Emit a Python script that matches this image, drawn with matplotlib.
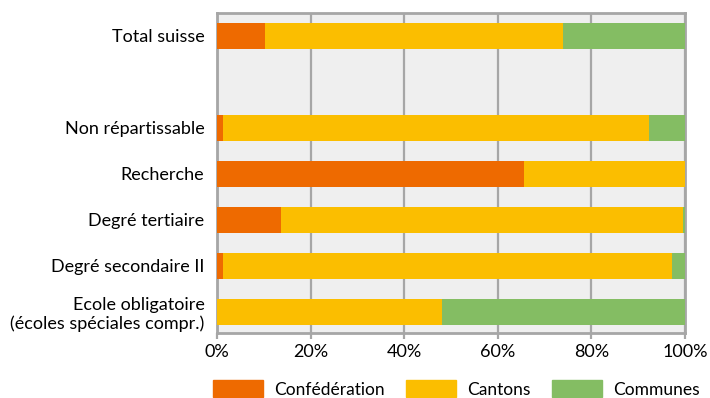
import matplotlib
matplotlib.use("Agg")
import matplotlib.pyplot as plt
from matplotlib.patches import Patch

categories = ["Ecole obligatoire\n(écoles spéciales compr.)", "Degré secondaire II",
              "Degré tertiaire", "Recherche", "Non répartissable", "Total suisse"]
positions = [0, 1, 2, 3, 4, 6]
confederation = [0.0, 1.3, 13.7, 65.6, 1.3, 10.3]
cantons = [48.1, 95.9, 85.9, 34.4, 91.0, 63.6]
communes = [51.9, 2.8, 0.4, 0.0, 7.7, 26.1]
series_names = ["Confédération", "Cantons", "Communes"]
colors = ["#EE6A00", "#FBBE00", "#84BD63"]
xticks = [0, 20, 40, 60, 80, 100]

plt.rcParams['font.family'] = ['Lato', 'DejaVu Sans']
fig = plt.figure(figsize=(7.1, 3.98), dpi=100)
ax = fig.add_axes([217/710, 1-333/398, (685-217)/710, (333-13)/398])
ax.set_facecolor("#EFEFEF")

h = 0.57
left = [0]*len(positions)
for vals, col, name in zip([confederation, cantons, communes], colors, series_names):
    ax.barh(positions, vals, left=left, height=h, color=col, label=name, zorder=3)
    left = [a+b for a, b in zip(left, vals)]

ax.set_xlim(0, 100)
ax.set_ylim(-0.46, 6.5)
ax.set_xticks(xticks)
ax.set_xticklabels([f"{v}%" for v in xticks])
ax.set_yticks(positions)
ax.set_yticklabels(categories)
ax.xaxis.grid(True, color="#A6A6A6", linewidth=1.6, zorder=1)
ax.tick_params(axis='x', length=4, width=1.6, color="#A6A6A6", labelsize=13, pad=4)
ax.tick_params(axis='y', length=0, labelsize=13, pad=9)
for s in ax.spines.values():
    s.set_color("#A6A6A6")
    s.set_linewidth(2)

handles = [Patch(color=c, label=n) for c, n in zip(colors, series_names)]
fig.legend(handles=handles, ncol=3, loc="center", bbox_to_anchor=(0.643, 1-389/398),
           frameon=False, fontsize=12.5, handlelength=2.85, handleheight=1.1,
           handletextpad=0.65, columnspacing=1.25)

fig.savefig("out.png", dpi=100)
